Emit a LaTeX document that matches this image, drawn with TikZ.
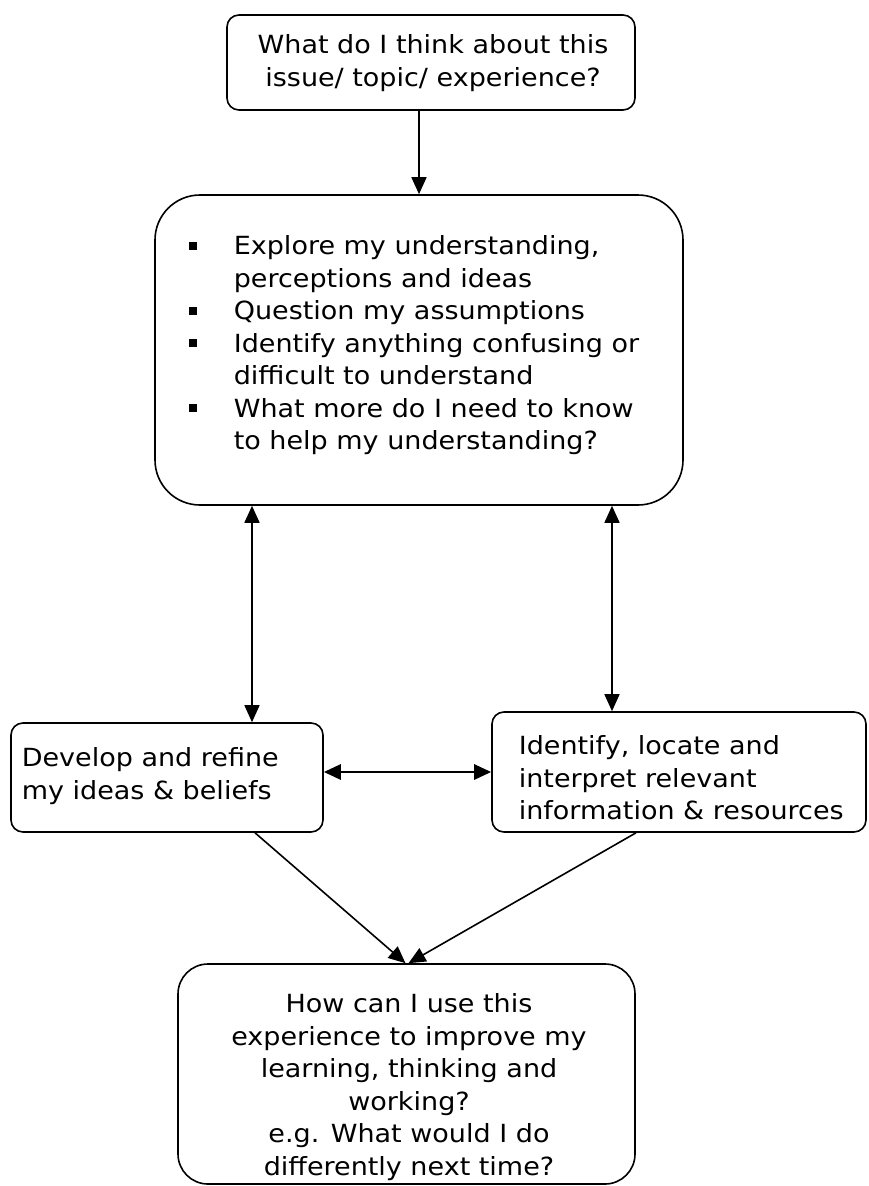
\documentclass[tikz,border=0pt]{standalone}
\usepackage{fontspec}
\setmainfont{DejaVu Sans}[FakeStretch=1.08]
\usetikzlibrary{arrows.meta,positioning}
\newcommand{\sqbullet}{\raisebox{5pt}{\rule{8pt}{8pt}}}

\begin{document}
\begin{tikzpicture}[x=1pt,y=-1pt,line width=1.6pt,
  box node/.style={draw,rounded corners=12pt,inner sep=0pt},
  text node/.style={font=\fontsize{25}{32.5}\selectfont,align=center,inner sep=0pt},
  tip/.tip={Triangle[length=17pt,width=15pt]},
  link/.style={-tip,line width=1.6pt},
  both link/.style={tip-tip,line width=1.6pt}]

  \useasboundingbox (0,0) rectangle (868,1186);

  \node[box node, minimum width=408pt, minimum height=95pt] (Q) at (431,62.5) {};
  \node[text node] (QT) at (433,63) {What do I think about this\\issue/ topic/ experience?};

  \node[box node, rounded corners=45pt, minimum width=528pt, minimum height=310pt] (MID) at (419,350) {};
  \node[text node, anchor=north west, align=left] (LIST) at (188,231)
    {\begin{tabular}{@{}p{45pt}@{}l@{}}
      \sqbullet & Explore my understanding,\\
                & perceptions and ideas\\
      \sqbullet & Question my assumptions\\
      \sqbullet & Identify anything confusing or\\
                & difficult to understand\\
      \sqbullet & What more do I need to know\\
                & to help my understanding?
     \end{tabular}};

  \node[box node, minimum width=312pt, minimum height=109pt] (DEV) at (167,777.5) {};
  \node[text node, anchor=west, align=left] (DEVT) at (21,776) {Develop and refine\\my ideas \& beliefs};

  \node[box node, minimum width=374pt, minimum height=120pt] (INFO) at (679,772) {};
  \node[text node, anchor=west, align=left] (INFOT) at (518,778) {Identify, locate and\\interpret relevant\\information \& resources};

  \node[box node, rounded corners=30pt, minimum width=457pt, minimum height=220pt] (USE) at (406.5,1074) {};
  \node[text node] (USET) at (409,1087) {How can I use this\\experience to improve my\\learning, thinking and\\working?\\e.g. What would I do\\differently next time?};

  % links between the boxes
  \draw[link] ([xshift=-12pt]Q.south) -- ([xshift=-12pt]Q.south |- MID.north);
  \draw[both link] ([xshift=85pt]DEV.north) -- ([xshift=85pt]DEV.north |- MID.south);
  \draw[both link] ([xshift=-67pt]INFO.north) -- ([xshift=-67pt]INFO.north |- MID.south);
  \draw[both link,line width=2.8pt] (DEV.east |- INFO.west) -- (INFO.west);
  \draw[link] ([xshift=88pt]DEV.south) -- ([xshift=-1pt]USE.north);
  \draw[link] ([xshift=-43pt]INFO.south) -- ([xshift=2pt]USE.north);
\end{tikzpicture}
\end{document}
